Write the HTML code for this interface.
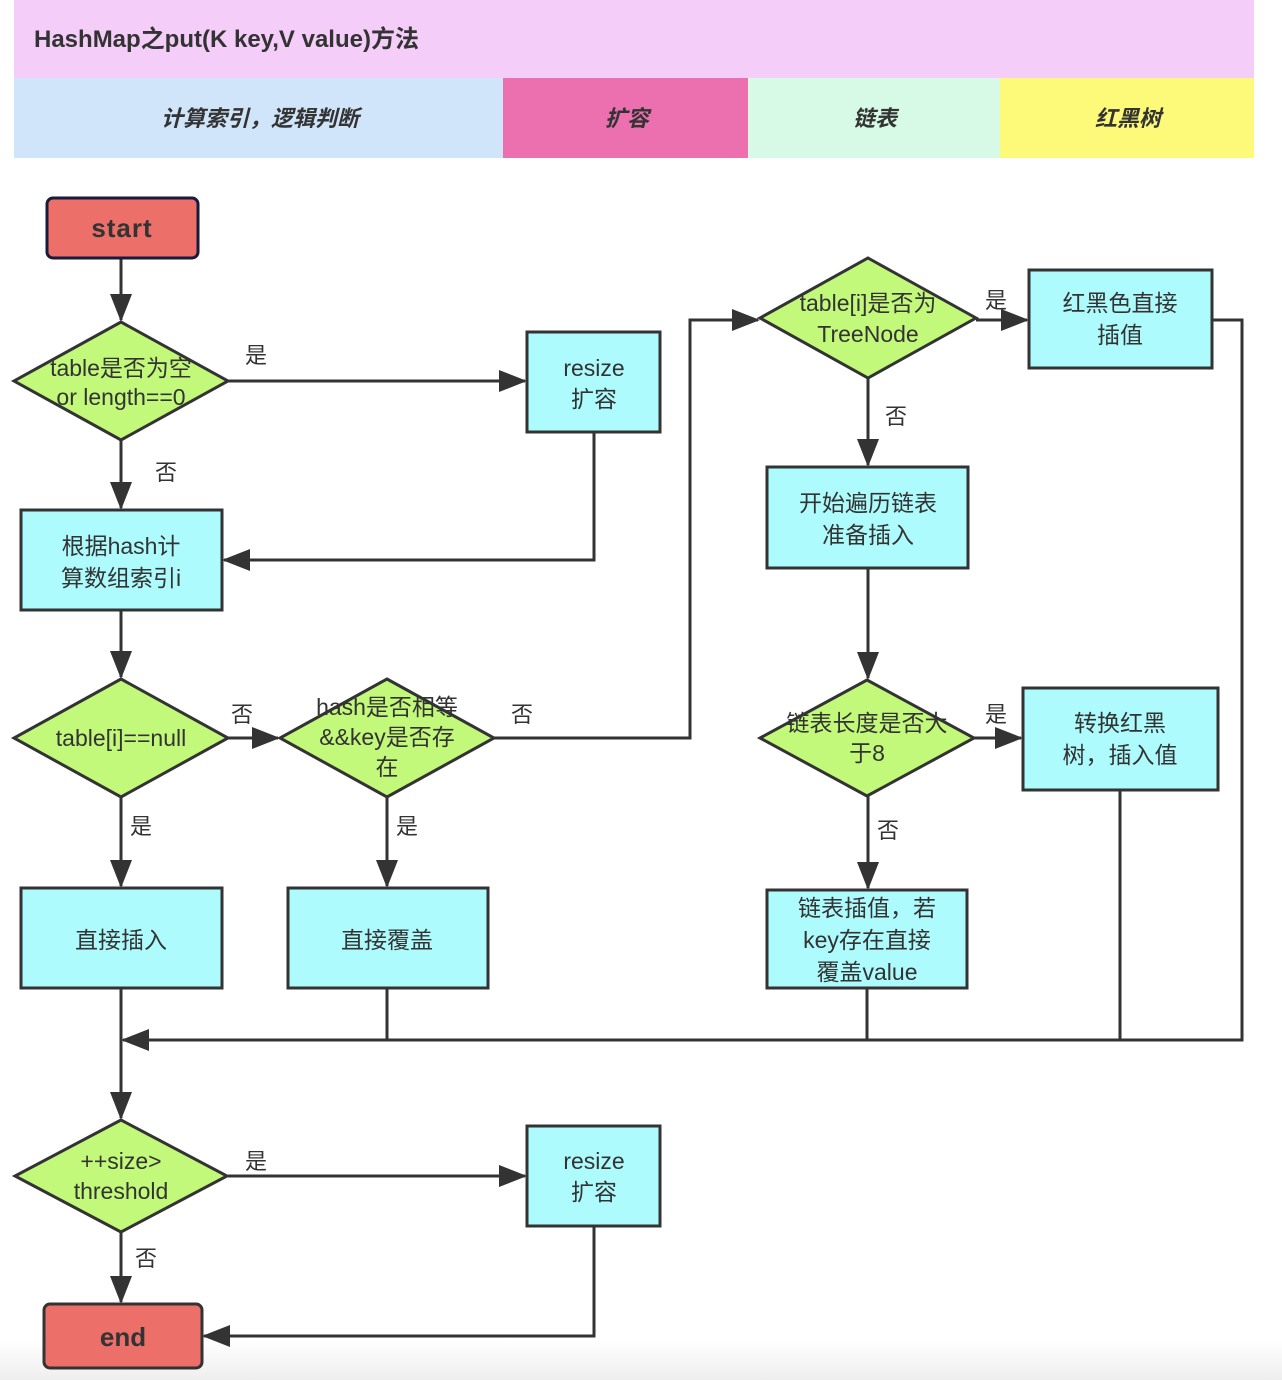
<!DOCTYPE html>
<html><head><meta charset="utf-8"><style>
html,body{margin:0;padding:0;background:#fff;}
svg{display:block;}
text{font-family:"Liberation Sans","Noto Sans CJK SC",sans-serif;fill:#333;}
</style></head><body>
<svg width="1282" height="1380" viewBox="0 0 1282 1380" xmlns="http://www.w3.org/2000/svg">
<defs>
<marker id="a" markerWidth="10" markerHeight="10" refX="9" refY="5" orient="auto" markerUnits="userSpaceOnUse" viewBox="0 0 10 10">
<path d="M0,0 L10,5 L0,10 z" fill="#333"/></marker>
<marker id="b" markerWidth="28" markerHeight="22" refX="26" refY="11" orient="auto" markerUnits="userSpaceOnUse" viewBox="0 0 28 22">
<path d="M0,0 L28,11 L0,22 z" fill="#333"/></marker>
<linearGradient id="g" x1="0" y1="0" x2="0" y2="1"><stop offset="0" stop-color="#fff"/><stop offset="1" stop-color="#eee"/></linearGradient>
</defs>
<rect x="0" y="1340" width="1282" height="40" fill="url(#g)"/>
<!-- header -->
<rect x="14" y="0" width="1240" height="78" fill="#f5cdf9"/>
<text x="34" y="47" font-size="24" font-weight="bold" fill="#333">HashMap之put(K key,V value)方法</text>
<rect x="14" y="78" width="489" height="80" fill="#d0e4fa"/>
<rect x="503" y="78" width="245" height="80" fill="#ec6fb0"/>
<rect x="748" y="78" width="252" height="80" fill="#d6fae6"/>
<rect x="1000" y="78" width="254" height="80" fill="#fdfa7a"/>
<g font-size="22" font-weight="bold" font-style="italic" text-anchor="middle">
<text x="260" y="126">计算索引，逻辑判断</text>
<text x="627" y="126">扩容</text>
<text x="875" y="126">链表</text>
<text x="1128" y="126">红黑树</text>
</g>
<!-- connectors -->
<g stroke="#333" stroke-width="3" fill="none">
<path d="M121,259 V320" marker-end="url(#b)"/>
<path d="M228,381 H525" marker-end="url(#b)"/>
<path d="M121,440 V508" marker-end="url(#b)"/>
<path d="M594,432 V560 H224" marker-end="url(#b)"/>
<path d="M121,610 V677" marker-end="url(#b)"/>
<path d="M228,738 H278" marker-end="url(#b)"/>
<path d="M494,738 H690 V320 H758" marker-end="url(#b)"/>
<path d="M976,320 H1027" marker-end="url(#b)"/>
<path d="M868,378 V465" marker-end="url(#b)"/>
<path d="M868,568 V678" marker-end="url(#b)"/>
<path d="M974,738 H1021" marker-end="url(#b)"/>
<path d="M868,796 V888" marker-end="url(#b)"/>
<path d="M121,797 V886" marker-end="url(#b)"/>
<path d="M387,797 V886" marker-end="url(#b)"/>
<path d="M1212,320 H1242 V1040 H123" marker-end="url(#b)"/>
<path d="M1120,790 V1040"/>
<path d="M867,988 V1040"/>
<path d="M387,988 V1040"/>
<path d="M121,988 V1118" marker-end="url(#b)"/>
<path d="M228,1176 H525" marker-end="url(#b)"/>
<path d="M121,1232 V1302" marker-end="url(#b)"/>
<path d="M594,1226 V1336 H204" marker-end="url(#b)"/>
</g>
<!-- nodes -->
<g stroke="#333" stroke-width="3">
<rect x="47" y="198" width="151" height="60" rx="6" fill="#ec6f6a" stroke="#1a1a3a"/>
<rect x="44" y="1304" width="158" height="64" rx="6" fill="#ec6f6a"/>
<polygon points="121,322 228,381 121,440 14,381" fill="#c3f97a"/>
<polygon points="121,679 228,738 121,797 14,738" fill="#c3f97a"/>
<polygon points="387,679 494,738 387,797 280,738" fill="#c3f97a"/>
<polygon points="868,258 976,318 868,378 760,318" fill="#c3f97a"/>
<polygon points="867,680 974,738 867,796 760,738" fill="#c3f97a"/>
<polygon points="121,1120 227,1176 121,1232 15,1176" fill="#c3f97a"/>
<rect x="527" y="332" width="133" height="100" fill="#adfbfc"/>
<rect x="21" y="510" width="201" height="100" fill="#adfbfc"/>
<rect x="21" y="888" width="201" height="100" fill="#adfbfc"/>
<rect x="288" y="888" width="200" height="100" fill="#adfbfc"/>
<rect x="1029" y="270" width="183" height="98" fill="#adfbfc"/>
<rect x="767" y="467" width="201" height="101" fill="#adfbfc"/>
<rect x="1023" y="688" width="195" height="102" fill="#adfbfc"/>
<rect x="767" y="890" width="200" height="98" fill="#adfbfc"/>
<rect x="527" y="1126" width="133" height="100" fill="#adfbfc"/>
</g>
<!-- node text -->
<g font-size="23" text-anchor="middle">
<text x="122" y="237" font-size="26" font-weight="bold" letter-spacing="1">start</text>
<text x="123" y="1346" font-size="26" font-weight="bold">end</text>
<text x="121" y="376">table是否为空</text>
<text x="121" y="405">or length==0</text>
<text x="594" y="376">resize</text>
<text x="594" y="407">扩容</text>
<text x="121" y="554">根据hash计</text>
<text x="121" y="586">算数组索引i</text>
<text x="121" y="746">table[i]==null</text>
<text x="387" y="715">hash是否相等</text>
<text x="387" y="745">&amp;&amp;key是否存</text>
<text x="387" y="775">在</text>
<text x="121" y="948">直接插入</text>
<text x="387" y="948">直接覆盖</text>
<text x="868" y="311">table[i]是否为</text>
<text x="868" y="342">TreeNode</text>
<text x="1120" y="311">红黑色直接</text>
<text x="1120" y="343">插值</text>
<text x="868" y="511">开始遍历链表</text>
<text x="868" y="543">准备插入</text>
<text x="867" y="731">链表长度是否大</text>
<text x="867" y="761">于8</text>
<text x="1120" y="731">转换红黑</text>
<text x="1120" y="763">树，插入值</text>
<text x="867" y="916">链表插值，若</text>
<text x="867" y="948">key存在直接</text>
<text x="867" y="980">覆盖value</text>
<text x="121" y="1169">++size&gt;</text>
<text x="121" y="1199">threshold</text>
<text x="594" y="1169">resize</text>
<text x="594" y="1200">扩容</text>
</g>
<!-- edge labels -->
<g font-size="22">
<text x="245" y="363">是</text>
<text x="155" y="480">否</text>
<text x="231" y="722">否</text>
<text x="511" y="722">否</text>
<text x="130" y="834">是</text>
<text x="396" y="834">是</text>
<text x="985" y="308">是</text>
<text x="885" y="424">否</text>
<text x="985" y="722">是</text>
<text x="877" y="838">否</text>
<text x="245" y="1169">是</text>
<text x="135" y="1266">否</text>
</g>
</svg>
</body></html>
